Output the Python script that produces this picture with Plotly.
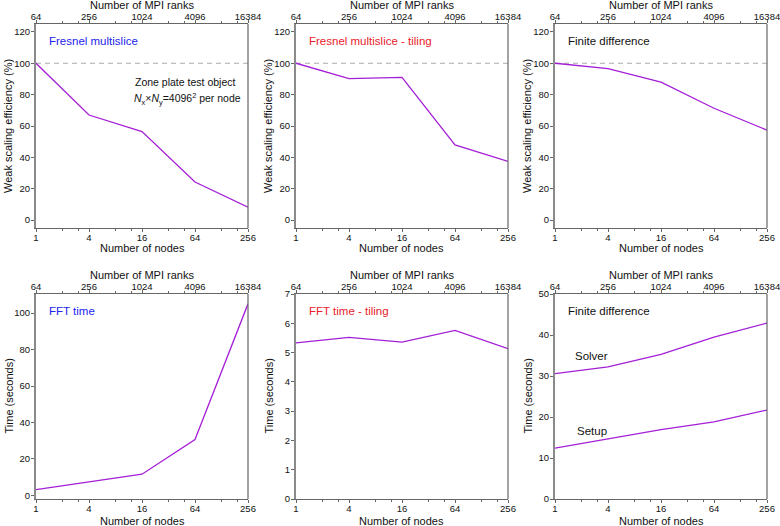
import plotly.graph_objects as go
import numpy as np

nodes = [1, 4, 16, 64, 256]
ranks = [64, 256, 1024, 4096, 16384]
node_ticks = ["1", "4", "16", "64", "256"]
rank_ticks = ["64", "256", "1024", "4096", "16384"]

eff_fresnel = [100, 67, 56.4, 24.3, 8.3]
eff_tiling = [100, 90.2, 91.0, 47.9, 37.5]
eff_fd = [100, 96.6, 88.0, 71.3, 57.4]
time_fft = [3.1, 7.3, 11.6, 30.6, 105.1]
time_fft_tiling = [5.33, 5.52, 5.36, 5.76, 5.13]
time_solver = [30.6, 32.2, 35.3, 39.5, 42.9]
time_setup = [12.4, 14.7, 16.9, 18.8, 21.7]

LINE = "#a41fd6"
FONT = "Liberation Sans, Arial, sans-serif"
W, H = 780, 526

cols = [(36, 248), (296, 508), (555, 767)]
rows = [(24, 228), (294, 499)]


def px(x):
    return x / W


def py(y):
    return 1 - y / H


panels = [
    dict(series=[eff_fresnel], yr=[-5, 125], dt=20, ytitle="Weak scaling efficiency (%)", ref=True,
         title="Fresnel multislice", tcolor="#2222ee"),
    dict(series=[eff_tiling], yr=[-5, 125], dt=20, ytitle="Weak scaling efficiency (%)", ref=True,
         title="Fresnel multislice - tiling", tcolor="#e8202a"),
    dict(series=[eff_fd], yr=[-5, 125], dt=20, ytitle="Weak scaling efficiency (%)", ref=True,
         title="Finite difference", tcolor="#111111"),
    dict(series=[time_fft], yr=[-2, 110.5], dt=20, ytitle="Time (seconds)", ref=False,
         title="FFT time", tcolor="#2222ee"),
    dict(series=[time_fft_tiling], yr=[0, 7], dt=1, ytitle="Time (seconds)", ref=False,
         title="FFT time - tiling", tcolor="#e8202a"),
    dict(series=[time_solver, time_setup], yr=[0, 50], dt=10, ytitle="Time (seconds)", ref=False,
         title="Finite difference", tcolor="#111111"),
]

node_minor = [2, 3, 8, 12, 32, 48, 128, 192]
rank_minor = [128, 192, 512, 768, 2048, 3072, 8192, 12288]

fig = go.Figure()
layout = dict(width=W, height=H, margin=dict(l=0, r=0, t=0, b=0, autoexpand=False),
              paper_bgcolor="white", plot_bgcolor="white", showlegend=False,
              font=dict(family=FONT, size=9, color="#111"))
annotations = []
shapes = []
AX = "#666666"
TICKF = dict(family=FONT, size=9.5, color="#111")
ytitle_x = [8, 268, 527]

for i, p in enumerate(panels):
    r, c = divmod(i, 3)
    x0, x1 = cols[c]
    y0, y1 = rows[r]
    n = i + 1
    xs = "" if n == 1 else str(n)
    tn = n + 6
    xd = [px(x0), px(x1)]
    yd = [py(y1), py(y0)]
    for s in p["series"]:
        fig.add_trace(go.Scatter(x=nodes, y=s, mode="lines", line=dict(color=LINE, width=1.3),
                                 xaxis="x" + xs, yaxis="y" + xs, hoverinfo="skip"))
        fig.add_trace(go.Scatter(x=ranks, y=s, mode="lines", opacity=0, line=dict(width=0),
                                 xaxis="x" + str(tn), yaxis="y" + xs, hoverinfo="skip"))
    layout["xaxis" + xs] = dict(
        domain=xd, anchor="y" + xs, type="log", range=[np.log10(1), np.log10(256)],
        automargin=False, tickmode="array",
        tickvals=nodes, ticktext=node_ticks, ticks="outside", ticklen=3, tickcolor=AX,
        ticklabelstandoff=-3, ticklabeloverflow="allow",
        showline=True, linecolor=AX, linewidth=1.2, showgrid=False, zeroline=False,
        minor=dict(tickvals=node_minor, ticks="outside", ticklen=2, tickcolor=AX),
        tickfont=TICKF)
    layout["xaxis" + str(tn)] = dict(
        overlaying="x" + xs, anchor="y" + xs, side="top", type="log", automargin=False,
        tickmode="array",
        range=[np.log10(64), np.log10(16384)], tickvals=ranks, ticktext=rank_ticks,
        ticks="outside", ticklen=3, tickcolor=AX, showline=True, linecolor=AX, linewidth=1.2,
        ticklabelstandoff=-4, ticklabeloverflow="allow",
        showgrid=False, zeroline=False,
        minor=dict(tickvals=rank_minor, ticks="outside", ticklen=2, tickcolor=AX),
        tickfont=TICKF)
    layout["yaxis" + xs] = dict(
        domain=yd, anchor="x" + xs, range=p["yr"], dtick=p["dt"], tick0=0, automargin=False,
        ticks="outside", ticklen=3, tickcolor=AX, showline=True, linecolor="#8a8a8a", linewidth=2,
        ticklabelstandoff=-1, ticklabeloverflow="allow",
        mirror=False, showgrid=False, zeroline=False, tickfont=TICKF)
    shapes.append(dict(type="line", xref="x" + xs + " domain", yref="y" + xs + " domain",
                       x0=1, x1=1, y0=0, y1=1, line=dict(color=AX, width=1.2)))
    if p["ref"]:
        shapes.append(dict(type="line", xref="x" + xs + " domain", yref="y" + xs,
                           x0=0, x1=1, y0=100, y1=100,
                           line=dict(color="#aaaaaa", width=1.2, dash="5px,4px"), layer="below"))
    annotations.append(dict(text=p["title"], xref="paper", yref="paper",
                            x=px(x0 + 11), y=py(y0 + 17), xanchor="left", yanchor="middle",
                            showarrow=False, font=dict(size=11.5, color=p["tcolor"])))
    cx = (x0 + x1) / 2
    annotations.append(dict(text="Number of MPI ranks", xref="paper", yref="paper",
                            x=px(cx), y=py(y0 - 19), xanchor="center", yanchor="middle",
                            showarrow=False, font=dict(size=11, color="#111")))
    annotations.append(dict(text="Number of nodes", xref="paper", yref="paper",
                            x=px(cx), y=py(y1 + 20 + r * 1.5), xanchor="center", yanchor="middle",
                            showarrow=False, font=dict(size=11, color="#111")))
    annotations.append(dict(text=p["ytitle"], xref="paper", yref="paper", textangle=-90,
                            x=px(ytitle_x[c]), y=py((y0 + y1) / 2), xanchor="center",
                            yanchor="middle", showarrow=False, font=dict(size=11, color="#111")))

annotations.append(dict(text="Zone plate test object", xref="paper", yref="paper",
                        x=px(185), y=py(82), xanchor="center", yanchor="middle",
                        showarrow=False, font=dict(size=10.5, color="#111")))
annotations.append(dict(text="<i>N</i><sub>x</sub>×<i>N</i><sub>y</sub>=4096<sup>2</sup> per node",
                        xref="paper", yref="paper", x=px(187), y=py(99),
                        xanchor="center", yanchor="middle", showarrow=False,
                        font=dict(size=10.5, color="#111")))
annotations.append(dict(text="Solver", xref="paper", yref="paper", x=px(591), y=py(356),
                        xanchor="center", yanchor="middle", showarrow=False,
                        font=dict(size=11.5, color="#111")))
annotations.append(dict(text="Setup", xref="paper", yref="paper", x=px(592), y=py(431),
                        xanchor="center", yanchor="middle", showarrow=False,
                        font=dict(size=11.5, color="#111")))

layout["annotations"] = annotations
layout["shapes"] = shapes
fig.update_layout(**layout)
fig.write_html("out.html", config={"displayModeBar": False},
               post_script="document.body.style.margin='0px';")
